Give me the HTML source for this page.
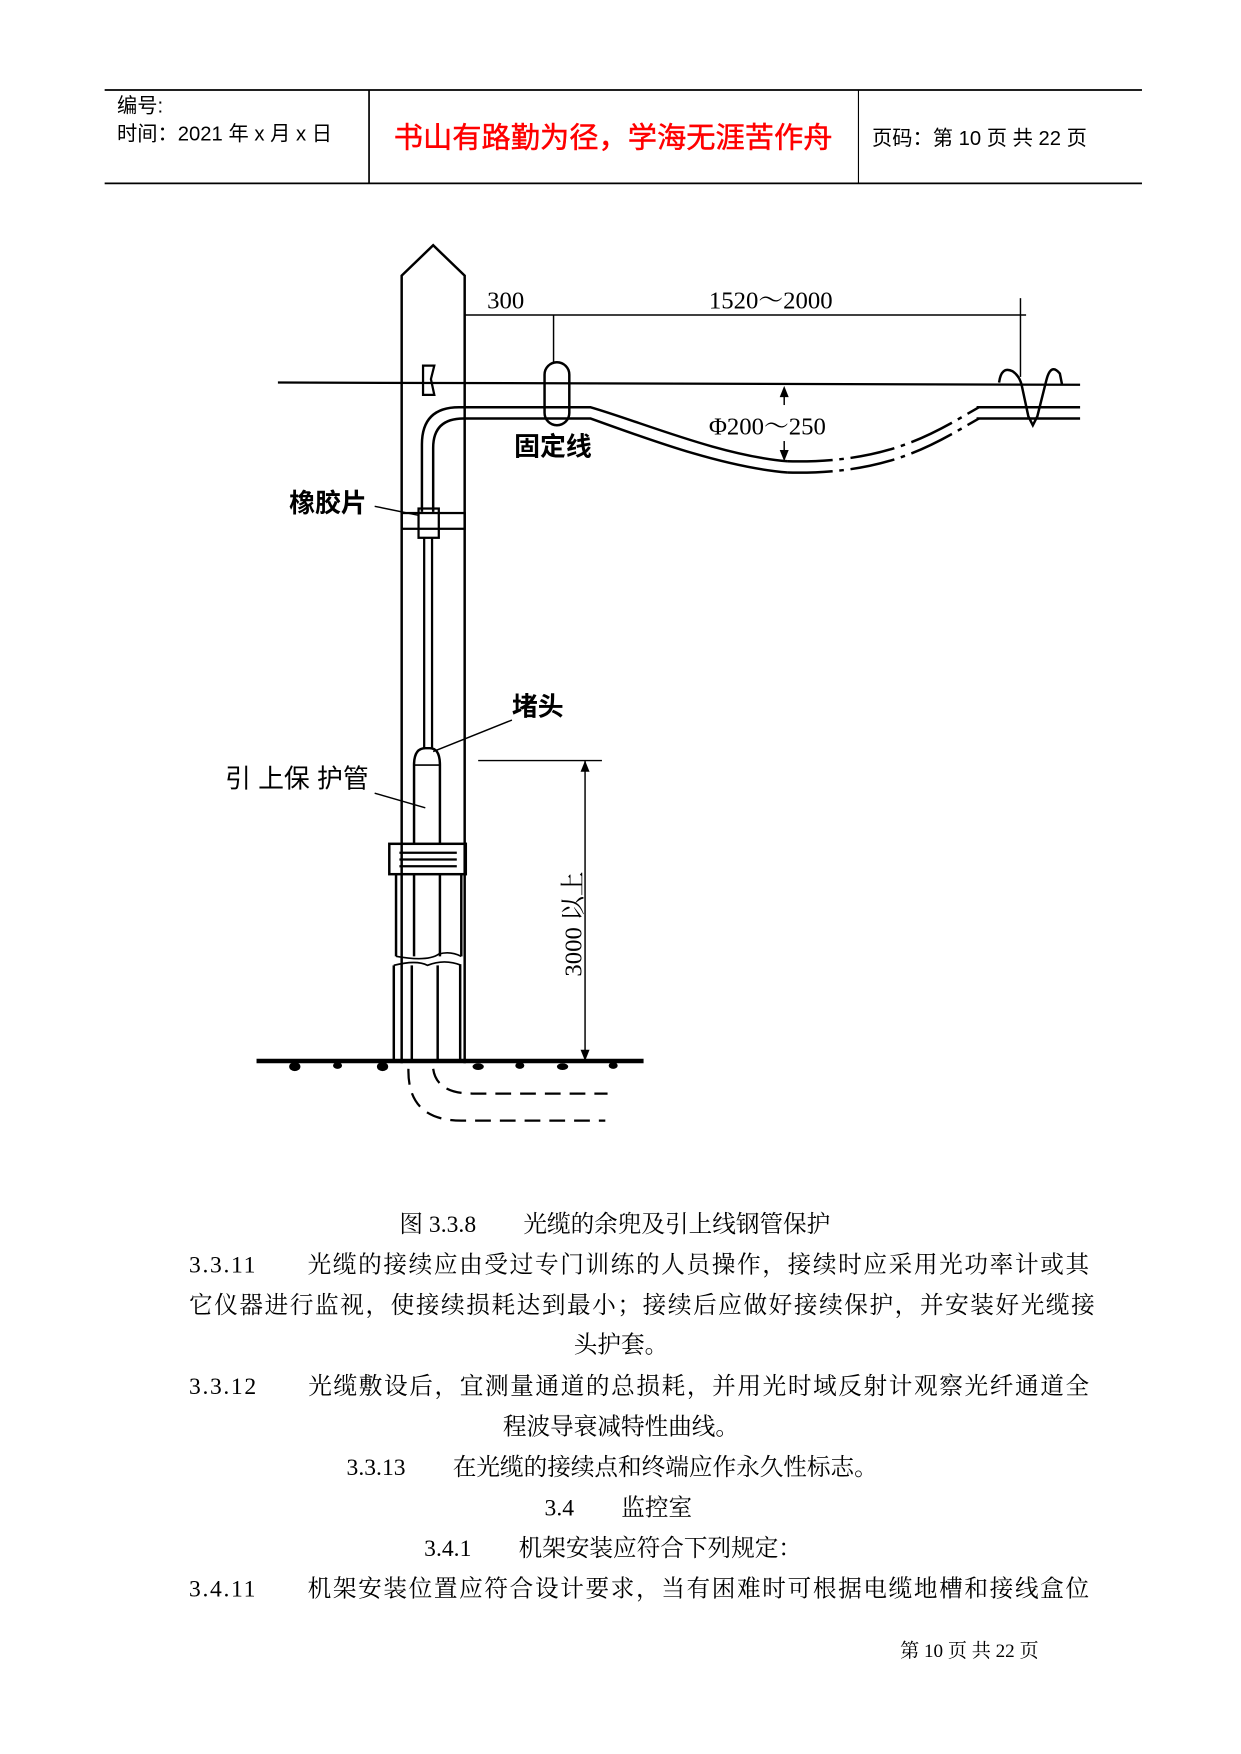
<!DOCTYPE html>
<html><head><meta charset="utf-8"><style>
html,body{margin:0;padding:0;background:#fff;}
svg{display:block;}
.s{font-family:"Liberation Serif","Noto Serif CJK SC",serif;}
.a{font-family:"Liberation Sans","Noto Sans CJK SC",sans-serif;}
.b{font-family:"Liberation Sans","Noto Sans CJK SC",sans-serif;font-weight:bold;}
</style></head><body>
<svg width="1241" height="1754" viewBox="0 0 1103 1559" xmlns="http://www.w3.org/2000/svg">
<rect width="1103" height="1559" fill="#fff"/>
<!-- header -->
<g stroke="#000" stroke-width="1.5">
<line x1="93" y1="80" x2="1015" y2="80"/>
<line x1="93" y1="163" x2="1015" y2="163"/>
<line x1="328" y1="80" x2="328" y2="163"/>
<line x1="763" y1="80" x2="763" y2="163" stroke-width="1"/>
</g>
<text class="a" x="104" y="100" font-size="18">编号:</text>
<text class="a" x="104" y="125" font-size="18">时间：2021 年 x 月 x 日</text>
<text class="a" x="545" y="131" font-size="26" fill="#f00" text-anchor="middle" stroke="#f00" stroke-width="0.4">书山有路勤为径，学海无涯苦作舟</text>
<text class="a" x="775" y="129" font-size="18">页码：第 10 页  共 22 页</text>

<!-- diagram -->
<g fill="none" stroke="#000" stroke-width="2.2">
<polyline points="357,945 357,245 385,218 413,245 413,945"/>
<line x1="247" y1="340" x2="960" y2="342" stroke-width="2"/>
<path d="M376,325 h10 l-3,12 l3,14 h-10 z" stroke-width="2"/>
<!-- cable -->
<path d="M375,455 V395 Q375,362 408,362 H525 C570,375 640,405 700,410"/>
<path d="M385,455 V398 Q385,372 412,372 H525 C570,388 640,415 700,420"/>
<path d="M700,410 C790,412 830,385 870,362" stroke-dasharray="40 6 4 6"/>
<path d="M700,420 C790,422 830,395 870,372" stroke-dasharray="40 6 4 6"/>
<line x1="868" y1="362" x2="960" y2="362"/>
<line x1="868" y1="372" x2="960" y2="372"/>
<rect x="484" y="322" width="22" height="56" rx="11"/>
<path d="M888,340 Q890,325 900,330 Q906,334 908,342 L914,370 L918,378 L922,370 L930,338 Q934,322 942,332 L944,342"/>
<rect x="357" y="456" width="56" height="14" stroke-width="2"/>
<rect x="372" y="452" width="18" height="26" stroke-width="2"/>
<line x1="377" y1="478" x2="377" y2="665" stroke-width="2"/>
<line x1="384" y1="478" x2="384" y2="665" stroke-width="2"/>
<path d="M368,750 V680 Q368,665 378,665 H382 Q391,665 391,680 V750"/>
<line x1="368" y1="680" x2="391" y2="680" stroke-width="1.5"/>
<rect x="346" y="750" width="68" height="27"/>
<line x1="355" y1="758" x2="406" y2="758" stroke-width="2"/>
<line x1="355" y1="764" x2="406" y2="764" stroke-width="2"/>
<line x1="355" y1="770" x2="406" y2="770" stroke-width="2"/>
<line x1="352" y1="777" x2="352" y2="850"/><line x1="368" y1="777" x2="368" y2="850"/>
<line x1="391" y1="777" x2="391" y2="850"/><line x1="410" y1="777" x2="410" y2="850"/>
<path d="M352,850 Q380,855 390,848 Q400,845 410,850" stroke-width="1.5"/>
<path d="M350,858 Q370,853 380,858 Q395,852 410,858" stroke-width="1.5"/>
<line x1="350" y1="858" x2="350" y2="943"/><line x1="366" y1="858" x2="366" y2="943"/>
<line x1="389" y1="858" x2="389" y2="943"/><line x1="409" y1="858" x2="409" y2="943"/>
<line x1="228" y1="943" x2="572" y2="943" stroke-width="4"/>
<path d="M363,950 Q362,996 410,996 H538" stroke-dasharray="14 8" stroke-width="2"/>
<path d="M385,950 Q388,972 420,972 H540" stroke-dasharray="14 8" stroke-width="2"/>
<g stroke-width="1.3">
<line x1="413" y1="280" x2="912" y2="280"/>
<line x1="492" y1="280" x2="492" y2="322"/>
<line x1="907" y1="265" x2="907" y2="335"/>
<line x1="697" y1="345" x2="697" y2="360"/>
<line x1="697" y1="392" x2="697" y2="408"/>
<line x1="425" y1="676" x2="535" y2="676"/>
<line x1="520" y1="676" x2="520" y2="943"/>
<line x1="333" y1="450" x2="372" y2="458"/>
<line x1="455" y1="640" x2="385" y2="668"/>
<line x1="333" y1="705" x2="378" y2="718"/>
</g>
</g>
<!-- ground texture -->
<g fill="#000">
<ellipse cx="262" cy="948" rx="5" ry="4"/><ellipse cx="300" cy="947" rx="4" ry="3"/>
<ellipse cx="340" cy="948" rx="5" ry="4"/><ellipse cx="425" cy="948" rx="5" ry="3"/>
<ellipse cx="462" cy="947" rx="4" ry="3"/><ellipse cx="500" cy="948" rx="5" ry="3"/>
<ellipse cx="545" cy="947" rx="4" ry="3"/>
<path d="M697,343 l-4,10 h8 z"/><path d="M697,410 l-4,-10 h8 z"/>
<path d="M520,676 l-4,10 h8 z"/><path d="M520,943 l-4,-10 h8 z"/>
</g>
<text class="s" x="433" y="274" font-size="22">300</text>
<text class="s" x="630" y="274" font-size="22">1520～2000</text>
<text class="s" x="630" y="386" font-size="22">Φ200～250</text>
<text class="b" x="457" y="405" font-size="23">固定线</text>
<text class="b" x="257" y="455" font-size="23">橡胶片</text>
<text class="b" x="455" y="636" font-size="23">堵头</text>
<text class="a" x="200" y="700" font-size="23">引 上保 护管</text>
<text class="s" font-size="22" transform="translate(517,868) rotate(-90)">3000 以上</text>

<g class="s" font-size="21" fill="#000">
<text x="355" y="1095">图 3.3.8　　光缆的余兜及引上线钢管保护</text>
<text x="168" y="1131" textLength="800">3.3.11　　光缆的接续应由受过专门训练的人员操作，接续时应采用光功率计或其</text>
<text x="168" y="1167" textLength="805">它仪器进行监视，使接续损耗达到最小；接续后应做好接续保护，并安装好光缆接</text>
<text x="510" y="1202">头护套。</text>
<text x="168" y="1239" textLength="800">3.3.12　　光缆敷设后，宜测量通道的总损耗，并用光时域反射计观察光纤通道全</text>
<text x="447" y="1275">程波导衰减特性曲线。</text>
<text x="308" y="1311">3.3.13　　在光缆的接续点和终端应作永久性标志。</text>
<text x="484" y="1347">3.4　　监控室</text>
<text x="377" y="1383">3.4.1　　机架安装应符合下列规定：</text>
<text x="168" y="1419" textLength="800">3.4.11　　机架安装位置应符合设计要求，当有困难时可根据电缆地槽和接线盒位</text>
<text x="800" y="1473" font-size="17">第 10 页 共 22 页</text>
</g>
</svg>
</body></html>
